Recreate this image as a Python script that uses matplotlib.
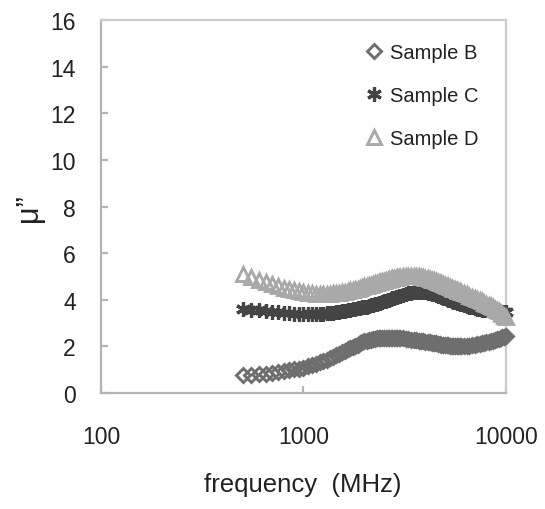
import matplotlib
matplotlib.use("Agg")
import matplotlib.pyplot as plt

plt.rcParams['font.family'] = ['Liberation Sans', 'DejaVu Sans']

freq = [500, 550, 600, 650, 700, 750, 800, 850, 900, 950,
        1000, 1050, 1100, 1150, 1200, 1250, 1300, 1350, 1400, 1450,
        1500, 1550, 1600, 1650, 1700, 1750, 1800, 1850, 1900, 1950,
        2000, 2050, 2100, 2150, 2200, 2250, 2300, 2350, 2400, 2450,
        2500, 2550, 2600, 2650, 2700, 2750, 2800, 2850, 2900, 2950, 3000,
        3100, 3200, 3300, 3400, 3500, 3600, 3700, 3800, 3900, 4000,
        4100, 4200, 4300, 4400, 4500, 4600, 4700, 4800, 4900, 5000,
        5100, 5200, 5300, 5400, 5500, 5600, 5700, 5800, 5900, 6000,
        6200, 6400, 6600, 6800, 7000, 7200, 7400, 7600, 7800, 8000,
        8200, 8400, 8600, 8800, 9000, 9200, 9400, 9600, 9800, 10000]

sample_b = [0.76, 0.78, 0.80, 0.83, 0.86, 0.89, 0.93, 0.97, 1.01, 1.05,
            1.09, 1.14, 1.19, 1.25, 1.31, 1.37, 1.43, 1.49, 1.56, 1.63,
            1.69, 1.75, 1.81, 1.87, 1.93, 1.98, 2.03, 2.08, 2.13, 2.17,
            2.21, 2.24, 2.27, 2.29, 2.31, 2.33, 2.34, 2.35, 2.36, 2.37,
            2.37, 2.38, 2.38, 2.38, 2.38, 2.37, 2.37, 2.36, 2.36, 2.35, 2.35,
            2.34, 2.32, 2.31, 2.29, 2.28, 2.26, 2.25, 2.23, 2.22, 2.20,
            2.19, 2.17, 2.16, 2.14, 2.13, 2.11, 2.10, 2.08, 2.07, 2.06,
            2.05, 2.04, 2.03, 2.03, 2.02, 2.02, 2.01, 2.01, 2.01, 2.01,
            2.01, 2.02, 2.03, 2.05, 2.07, 2.09, 2.11, 2.13, 2.15, 2.17,
            2.19, 2.22, 2.25, 2.28, 2.30, 2.33, 2.36, 2.39, 2.42, 2.45]

sample_c = [3.60, 3.57, 3.54, 3.51, 3.48, 3.46, 3.44, 3.42, 3.41, 3.40,
            3.39, 3.39, 3.39, 3.39, 3.40, 3.41, 3.42, 3.43, 3.45, 3.47,
            3.49, 3.51, 3.53, 3.55, 3.57, 3.59, 3.61, 3.63, 3.65, 3.67,
            3.69, 3.71, 3.73, 3.76, 3.78, 3.81, 3.83, 3.86, 3.88, 3.91,
            3.93, 3.96, 3.98, 4.01, 4.03, 4.06, 4.08, 4.11, 4.13, 4.15, 4.17,
            4.21, 4.25, 4.28, 4.31, 4.33, 4.34, 4.35, 4.35, 4.34, 4.33,
            4.31, 4.29, 4.26, 4.24, 4.21, 4.18, 4.15, 4.12, 4.09, 4.06,
            4.03, 4.00, 3.97, 3.95, 3.92, 3.90, 3.87, 3.85, 3.83, 3.81,
            3.77, 3.73, 3.70, 3.67, 3.64, 3.62, 3.60, 3.58, 3.56, 3.55,
            3.54, 3.53, 3.52, 3.51, 3.50, 3.50, 3.49, 3.49, 3.48, 3.48]

sample_d = [5.12, 4.98, 4.86, 4.76, 4.67, 4.59, 4.52, 4.46, 4.41, 4.37,
            4.33, 4.30, 4.28, 4.26, 4.25, 4.25, 4.25, 4.26, 4.27, 4.29,
            4.31, 4.33, 4.35, 4.37, 4.40, 4.42, 4.45, 4.48, 4.51, 4.54,
            4.57, 4.59, 4.62, 4.65, 4.67, 4.70, 4.72, 4.75, 4.77, 4.80,
            4.82, 4.84, 4.86, 4.88, 4.90, 4.92, 4.93, 4.95, 4.96, 4.97, 4.98,
            5.00, 5.01, 5.02, 5.02, 5.02, 5.01, 5.00, 4.98, 4.96, 4.94,
            4.92, 4.89, 4.86, 4.83, 4.80, 4.77, 4.73, 4.70, 4.66, 4.63,
            4.60, 4.57, 4.54, 4.51, 4.48, 4.45, 4.42, 4.39, 4.36, 4.33,
            4.28, 4.23, 4.18, 4.13, 4.08, 4.03, 3.98, 3.93, 3.88, 3.83,
            3.78, 3.73, 3.67, 3.62, 3.56, 3.50, 3.44, 3.38, 3.31, 3.25]

labels = ["Sample B", "Sample C", "Sample D"]
yticks = [0, 2, 4, 6, 8, 10, 12, 14, 16]
xticks = [100, 1000, 10000]
xticklabels = ["100", "1000", "10000"]

W, H = 545, 510
fig = plt.figure(figsize=(W / 100, H / 100), dpi=100)
ax = fig.add_axes([101 / W, 1 - 394 / H, (506 - 101) / W, (394 - 21) / H])

col_b = '#6e6e6e'
col_c = '#444444'
col_d = '#a9a9a9'

ax.plot(freq, sample_b, linestyle='none', marker='D', markersize=6.8,
        markerfacecolor='none', markeredgecolor=col_b, markeredgewidth=2.1,
        label=labels[0], zorder=3, clip_on=False)
ax.plot(freq, sample_c, linestyle='none', marker=(6, 2, 0), markersize=10.5,
        markerfacecolor=col_c, markeredgecolor=col_c, markeredgewidth=2.3,
        label=labels[1], zorder=4, clip_on=False)
ax.plot(freq, sample_d, linestyle='none', marker='^', markersize=10.5,
        markerfacecolor='none', markeredgecolor=col_d, markeredgewidth=2.1,
        label=labels[2], zorder=5, clip_on=False)

ax.set_xscale('log')
ax.set_xlim(100, 10000)
ax.set_ylim(0, 16)
ax.set_xticks(xticks)
ax.set_xticklabels(xticklabels)
ax.xaxis.set_minor_locator(matplotlib.ticker.NullLocator())
ax.set_yticks(yticks)

for side in ['left', 'bottom']:
    ax.spines[side].set_color('#b4b4b4')
    ax.spines[side].set_linewidth(1.6)
for side in ['top', 'right']:
    ax.spines[side].set_color('#cccccc')
    ax.spines[side].set_linewidth(1.6)

ax.tick_params(axis='both', direction='in', length=5, width=1.6,
               color='#b4b4b4', labelsize=16.5, labelcolor='#222222')
ax.tick_params(axis='y', pad=18)
ax.tick_params(axis='x', pad=23)
ax.tick_params(axis='y', right=False)
ax.tick_params(axis='x', top=False)

fig.text(303 / W, 1 - 485 / H, "frequency  (MHz)", ha='center', va='center',
         fontsize=18.5, color='#222222')
fig.text(29 / W, 1 - 208 / H, "\u03bc\u201d", ha='center', va='center',
         rotation=90, fontsize=22, color='#222222')

leg = ax.legend(loc='upper left', bbox_to_anchor=(366 / W, 1 - 44 / H),
                bbox_transform=fig.transFigure, frameon=False, fontsize=14.5,
                handlelength=0.8, handletextpad=0.4, labelspacing=1.2,
                borderpad=0, borderaxespad=0)
for t in leg.get_texts():
    t.set_color('#222222')

fig.savefig('out.png', dpi=100)
